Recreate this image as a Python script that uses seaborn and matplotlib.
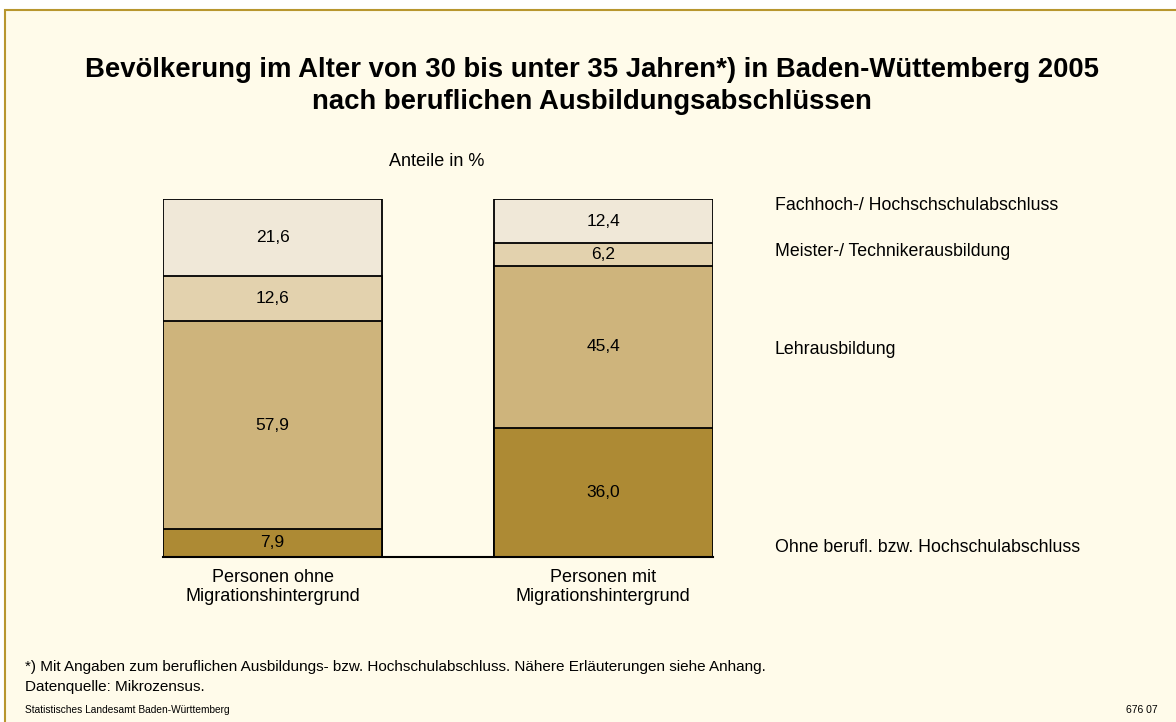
import numpy as np
import pandas as pd
import matplotlib
matplotlib.use("Agg")
import matplotlib.pyplot as plt
from matplotlib.patches import Rectangle
import seaborn as sns

# ---------------------------- data ----------------------------
groups = ["Personen ohne\nMigrationshintergrund", "Personen mit\nMigrationshintergrund"]
categories = ["Ohne berufl. bzw. Hochschulabschluss", "Lehrausbildung",
              "Meister-/ Technikerausbildung", "Fachhoch-/ Hochschschulabschluss"]
ohne = [7.9, 36.0]
lehr = [57.9, 45.4]
meister = [12.6, 6.2]
fach = [21.6, 12.4]
colors = ["#AD8A34", "#CEB47C", "#E3D2AE", "#F0E8D8"]

bg = "#FFFBEA"
sns.set_style("white")
plt.rcParams["font.family"] = ["Liberation Sans", "DejaVu Sans"]
plt.rcParams["text.color"] = "black"
plt.rcParams["xtick.color"] = "black"

df = pd.DataFrame({"group": groups, categories[0]: ohne, categories[1]: lehr,
                   categories[2]: meister, categories[3]: fach})
cum = df[categories].cumsum(axis=1)

fig = plt.figure(figsize=(11.76, 7.22), dpi=100, facecolor="white")
fig.patches.append(Rectangle((5 / 1176, -0.1), 1.2, 1.1 - 10 / 722, transform=fig.transFigure,
                             facecolor=bg, edgecolor="#B8962E", linewidth=1.5, zorder=-10))
ax = fig.add_axes([163 / 1176, 1 - 557 / 722, 550 / 1176, 358 / 722])
ax.set_facecolor(bg)

bw = 0.663
# draw from the total downward, each bar overlays the previous one
for cat, col in reversed(list(zip(categories, colors))):
    sns.barplot(x="group", y=cat, data=cum.assign(group=groups), color=col, width=bw,
                saturation=1, edgecolor="black", linewidth=1.3, errorbar=None, ax=ax)

# value labels
for i, g in enumerate(groups):
    for cat in categories:
        v = df.loc[i, cat]
        ax.text(i, cum.loc[i, cat] - v / 2, f"{v:.1f}".replace(".", ","),
                ha="center", va="center", fontsize=12.5)

ax.set_xlim(-bw / 2, 1 + bw / 2)
ax.set_ylim(0, 100)
ax.set_xlabel("")
ax.set_ylabel("")
ax.set_yticks([])
ax.tick_params(axis="x", length=0, pad=9, labelsize=13)
for s in ["top", "left", "right"]:
    ax.spines[s].set_visible(False)
ax.spines["bottom"].set_linewidth(1.5)
ax.spines["bottom"].set_color("black")
for lbl in ax.get_xticklabels():
    lbl.set_linespacing(1.15)

# right-hand category labels
for cat, yp in zip(categories, [548, 350, 252, 206]):
    fig.text(775 / 1176, 1 - yp / 722, cat, ha="left", va="center", fontsize=12.8)

fig.text(592 / 1176, 1 - 86 / 722,
         "Bevölkerung im Alter von 30 bis unter 35 Jahren*) in Baden-Wüttemberg 2005\n"
         "nach beruflichen Ausbildungsabschlüssen",
         ha="center", va="center", fontsize=19.8, fontweight="bold", linespacing=1.3)
fig.text(437 / 1176, 1 - 162 / 722, "Anteile in %", ha="center", va="center", fontsize=13)

fig.text(25 / 1176, 1 - 667 / 722,
         "*) Mit Angaben zum beruflichen Ausbildungs- bzw. Hochschulabschluss. Nähere Erläuterungen siehe Anhang.",
         ha="left", va="center", fontsize=11)
fig.text(25 / 1176, 1 - 687 / 722, "Datenquelle: Mikrozensus.", ha="left", va="center", fontsize=11)
fig.text(25 / 1176, 1 - 710 / 722, "Statistisches Landesamt Baden-Württemberg",
         ha="left", va="center", fontsize=7.3)
fig.text(1158 / 1176, 1 - 710 / 722, "676 07", ha="right", va="center", fontsize=7.5)

fig.savefig("out.png", dpi=100, facecolor=fig.get_facecolor())
